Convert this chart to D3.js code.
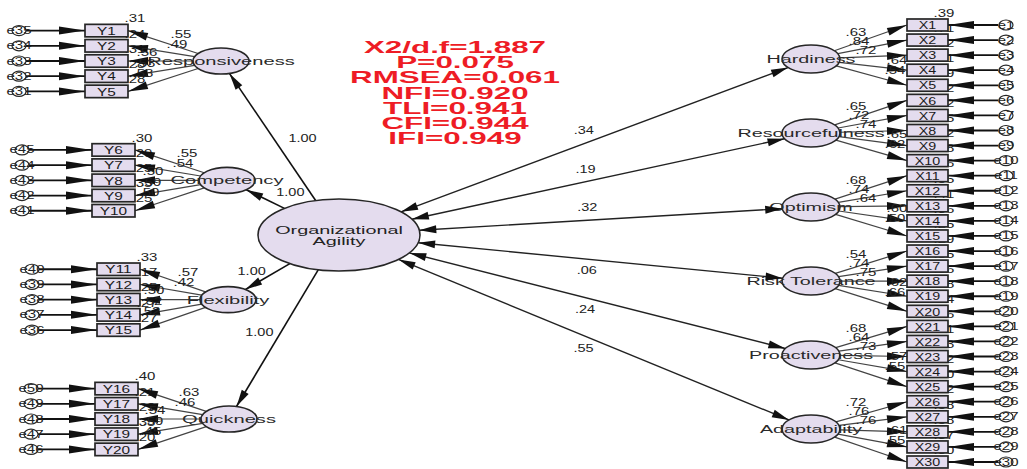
<!DOCTYPE html>
<html><head><meta charset="utf-8">
<script src="https://cdn.jsdelivr.net/npm/d3@7"></script>
<style>html,body{margin:0;padding:0;background:#fff;} svg{display:block;}</style>
</head><body>
<svg id="c" width="1027" height="469"></svg>
<script>
// ---------------- DATA ----------------
const centralLabel = ["Organizational", "Agility"];
const leftFactors = ["Responsiveness", "Competency", "Flexibility", "Quickness"];
const leftPathValues = [1.00, 1.00, 1.00, 1.00];
const leftItems = ["Y1","Y2","Y3","Y4","Y5","Y6","Y7","Y8","Y9","Y10","Y11","Y12","Y13","Y14","Y15","Y16","Y17","Y18","Y19","Y20"];
const leftErrors = ["e35","e34","e33","e32","e31","e45","e44","e43","e42","e41","e40","e39","e38","e37","e36","e50","e49","e48","e47","e46"];
const leftLoadings = [0.55,0.49,0.56,0.53,0.53, 0.55,0.54,0.50,0.59,0.50, 0.57,0.42,0.50,0.52,0.52, 0.63,0.46,0.54,0.59,0.45];
const leftR2 = [0.31,0.24,0.31,0.28,0.28, 0.30,0.29,0.25,0.35,0.25, 0.33,0.17,0.25,0.27,0.27, 0.40,0.21,0.29,0.35,0.20];

const rightFactors = ["Hardiness", "Resourcefulness", "Optimism", "Risk Tolerance", "Proactiveness", "Adaptability"];
const rightPathValues = [0.34, 0.19, 0.32, 0.06, 0.24, 0.55];
const rightItems = ["X1","X2","X3","X4","X5","X6","X7","X8","X9","X10","X11","X12","X13","X14","X15","X16","X17","X18","X19","X20","X21","X22","X23","X24","X25","X26","X27","X28","X29","X30"];
const rightErrors = ["e1","e2","e3","e4","e5","e6","e7","e8","e9","e10","e11","e12","e13","e14","e15","e16","e17","e18","e19","e20","e21","e22","e23","e24","e25","e26","e27","e28","e29","e30"];
const rightLoadings = [0.63,0.84,0.72,0.64,0.54, 0.65,0.72,0.74,0.65,0.62, 0.68,0.74,0.64,0.60,0.50, 0.54,0.74,0.75,0.62,0.66, 0.68,0.64,0.73,0.57,0.55, 0.72,0.76,0.76,0.61,0.55];
const rightR2 = [0.39,0.71,0.52,0.41,0.29, 0.42,0.52,0.55,0.42,0.38, 0.46,0.55,0.41,0.36,0.25, 0.29,0.55,0.56,0.38,0.44, 0.46,0.41,0.53,0.32,0.30, 0.52,0.58,0.58,0.37,0.30];

const fitIndices = ["X2/d.f=1.887","P=0.075","RMSEA=0.061","NFI=0.920","TLI=0.941","CFI=0.944","IFI=0.949"];

// ---------------- LAYOUT ----------------
const FONT = "'Liberation Sans', Arial, Helvetica, sans-serif";
const FILL = "#e4dcee";
const STROKE = "#262626";
const central = {x: 339, y: 235, rx: 81, ry: 36};
const layout = {
  leftFactorX: [221, 227, 228, 229],
  leftBoxX: [85, 92, 97, 95],
  leftErrX: [19, 22, 32, 31],
  leftLabelNudge: [[30, 2], [25, -6], [-16, -5], [-18, -5]],
  leftLoadOff: [[-40,-27],[-44,-17],[-74,-9],[-76,2],[-78,12]],
  rightLoadOff: [[45,-27],[48,-18],[55,-9],[86,1],[84,11]],
  rightFactorX: 811, rightBoxX: 907, rightErrX: 1006,
  boxW: 43, boxH: 12.5
};
const yLeftFactor = d3.scaleLinear().domain([0, 3]).range([61, 419]);
const yRightFactor = d3.scaleLinear().domain([0, 5]).range([59, 429]);
const yRightItem = d3.scaleLinear().domain([0, 29]).range([25, 462]);
const yBlockOffset = d3.scaleLinear().domain([0, 4]).range([-30.4, 30.4]);
const yFit = d3.scaleLinear().domain([0, 6]).range([53, 144]);

const fmt = v => { const s = d3.format(".2f")(v); return v >= 1 ? s : s.replace(/^0/, ""); };

const svg = d3.select("#c");
svg.append("rect").attr("width", 1027).attr("height", 469).attr("fill", "#fff");
const gLines = svg.append("g");
const gShapes = svg.append("g");
const gNames = svg.append("g");
const gR2 = svg.append("g");
const gBoxes = svg.append("g");
const gHeads = svg.append("g");
const gLabels = svg.append("g");
const gErr = svg.append("g");
const gFit = svg.append("g");

function edge(e, tx, ty) {
  const dx = tx - e.x, dy = ty - e.y;
  const t = 1 / Math.sqrt((dx / e.rx) ** 2 + (dy / e.ry) ** 2);
  return [e.x + dx * t, e.y + dy * t];
}
function line(g, a, b, w, c) {
  g.append("line").attr("x1", a[0]).attr("y1", a[1]).attr("x2", b[0]).attr("y2", b[1])
    .attr("stroke", c || STROKE).attr("stroke-width", w || 1.2);
}
function head(g, tip, from, L, w) {
  const dx = tip[0] - from[0], dy = tip[1] - from[1];
  const len = Math.hypot(dx, dy), ux = dx / len, uy = dy / len;
  const bx = tip[0] - ux * L, by = tip[1] - uy * L, px = -uy * w, py = ux * w;
  g.append("path").attr("d", `M${tip[0]},${tip[1]}L${bx + px},${by + py}L${bx - px},${by - py}Z`).attr("fill", "#111");
}
function stext(g, x, y, s, o) {
  o = o || {};
  const t = g.append("text")
    .attr("transform", `translate(${x},${y}) scale(${o.sx || 1.55},1)`)
    .attr("text-anchor", o.anchor || "middle")
    .attr("font-family", FONT)
    .attr("font-size", o.size || 10)
    .attr("fill", o.fill || "#222")
    .text(s);
  if (o.weight) t.attr("font-weight", o.weight);
  if (o.mid) t.attr("dominant-baseline", "central");
  return t;
}
function ellipse(g, e) {
  g.append("ellipse").attr("cx", e.x).attr("cy", e.y).attr("rx", e.rx).attr("ry", e.ry)
    .attr("fill", FILL).attr("stroke", STROKE).attr("stroke-width", 1.6);
}
function box(g, x, y, label) {
  g.append("rect").attr("x", x).attr("y", y - layout.boxH / 2).attr("width", layout.boxW).attr("height", layout.boxH)
    .attr("fill", FILL).attr("stroke", STROKE).attr("stroke-width", 1.7);
  stext(g, x + layout.boxW / 2, y + 4.2, label, {size: 11, sx: 1.4, fill: "#1a1a1a"});
}
function errCircle(g, cx, y, label) {
  stext(g, cx, y + 3.5, label, {size: 10, sx: 1.5, fill: "#222"});
  g.append("ellipse").attr("cx", cx).attr("cy", y).attr("rx", 7).attr("ry", 5)
    .attr("fill", "none").attr("stroke", STROKE).attr("stroke-width", 1.2);
}

// ---------------- CENTRAL ----------------
ellipse(gShapes, central);
stext(gNames, central.x, central.y - 1, centralLabel[0], {size: 11, sx: 1.8});
stext(gNames, central.x, central.y + 10, centralLabel[1], {size: 11, sx: 1.8});

// ---------------- LEFT ----------------
leftFactors.forEach((name, b) => {
  const f = {x: layout.leftFactorX[b], y: yLeftFactor(b), rx: 28, ry: 13};
  const p0 = edge(central, f.x, f.y), p1 = edge(f, central.x, central.y);
  line(gLines, p0, p1, 1.6, "#111");
  head(gHeads, p1, p0, 17, 4);
  const mx = (p0[0] + p1[0]) / 2, my = (p0[1] + p1[1]) / 2;
  const nd = layout.leftLabelNudge[b];
  stext(gLabels, mx + nd[0], my + nd[1], fmt(leftPathValues[b]), {size: 10, sx: 1.45, mid: true});
  ellipse(gShapes, f);
  stext(gNames, f.x, f.y + 4, name, {size: 11.5, sx: 1.75, fill: "#2a2a2a"});
  for (let k = 0; k < 5; k++) {
    const i = b * 5 + k;
    const y = f.y + yBlockOffset(k);
    const x0 = layout.leftBoxX[b], x1 = x0 + layout.boxW;
    const s = edge(f, x1, y);
    line(gLines, s, [x1, y], 1.2, "#444");
    head(gHeads, [x1, y], s, 20, 4);
    stext(gR2, x1 + 7, y - layout.boxH / 2 - 2, fmt(leftR2[i]), {size: 10, sx: 1.5});
    box(gBoxes, x0, y, leftItems[i]);
    const cx = layout.leftErrX[b];
    line(gLines, [cx + 7, y], [x0, y], 1.8, "#111");
    head(gHeads, [x0, y], [cx, y], 26, 4);
    errCircle(gErr, cx, y, leftErrors[i]);
    const lo = layout.leftLoadOff[k];
    stext(gLabels, f.x + lo[0], f.y + lo[1], fmt(leftLoadings[i]), {size: 10, sx: 1.5, mid: true});
  }
});

// ---------------- RIGHT ----------------
rightFactors.forEach((name, b) => {
  const f = {x: layout.rightFactorX, y: yRightFactor(b), rx: 29, ry: 14};
  const p0 = edge(central, f.x, f.y), p1 = edge(f, central.x, central.y);
  line(gLines, p0, p1, 1.4, "#222");
  head(gHeads, p1, p0, 17, 4);
  head(gHeads, p0, p1, 17, 4);
  // path label near x=588
  const t = (588 - p0[0]) / (p1[0] - p0[0]);
  const lx = 588, ly = p0[1] + t * (p1[1] - p0[1]);
  const dx = p1[0] - p0[0], dy = p1[1] - p0[1], len = Math.hypot(dx, dy);
  let nx = -dy / len, ny = dx / len;
  if (f.y < central.y - 10) { if (ny > 0) { nx = -nx; ny = -ny; } } else { if (ny < 0) { nx = -nx; ny = -ny; } }
  stext(gLabels, lx + nx * 12, ly + ny * 12, fmt(rightPathValues[b]), {size: 10, sx: 1.45, mid: true});
  ellipse(gShapes, f);
  stext(gNames, f.x, f.y + 4, name, {size: 11.5, sx: 1.72, fill: "#2a2a2a"});
  for (let k = 0; k < 5; k++) {
    const i = b * 5 + k;
    const y = yRightItem(i);
    const x0 = layout.rightBoxX, x1 = x0 + layout.boxW - 2;
    const s = edge(f, x0, y);
    line(gLines, s, [x0, y], 1.2, "#444");
    head(gHeads, [x0, y], s, 20, 4);
    stext(gR2, x1 - 4, y - layout.boxH / 2 - 2, fmt(rightR2[i]), {size: 10, sx: 1.5});
    gBoxes.append("rect").attr("x", x0).attr("y", y - 6).attr("width", x1 - x0).attr("height", 12)
      .attr("fill", FILL).attr("stroke", STROKE).attr("stroke-width", 1.7);
    stext(gBoxes, (x0 + x1) / 2, y + 4.2, rightItems[i], {size: 11, sx: 1.3, fill: "#1a1a1a"});
    const cx = layout.rightErrX;
    line(gLines, [cx - 8, y], [x1, y], 1.8, "#111");
    head(gHeads, [x1, y], [cx, y], 26, 4);
    errCircle(gErr, cx, y, rightErrors[i]);
    const lo = layout.rightLoadOff[k];
    stext(gLabels, f.x + lo[0], f.y + lo[1], fmt(rightLoadings[i]), {size: 10, sx: 1.5, mid: true});
  }
});

// ---------------- FIT INDICES ----------------
fitIndices.forEach((s, i) => {
  stext(gFit, 455, yFit(i), s, {size: 16.5, sx: 1.9, fill: "#ee1c25", weight: "bold"});
});
</script>
</body></html>
